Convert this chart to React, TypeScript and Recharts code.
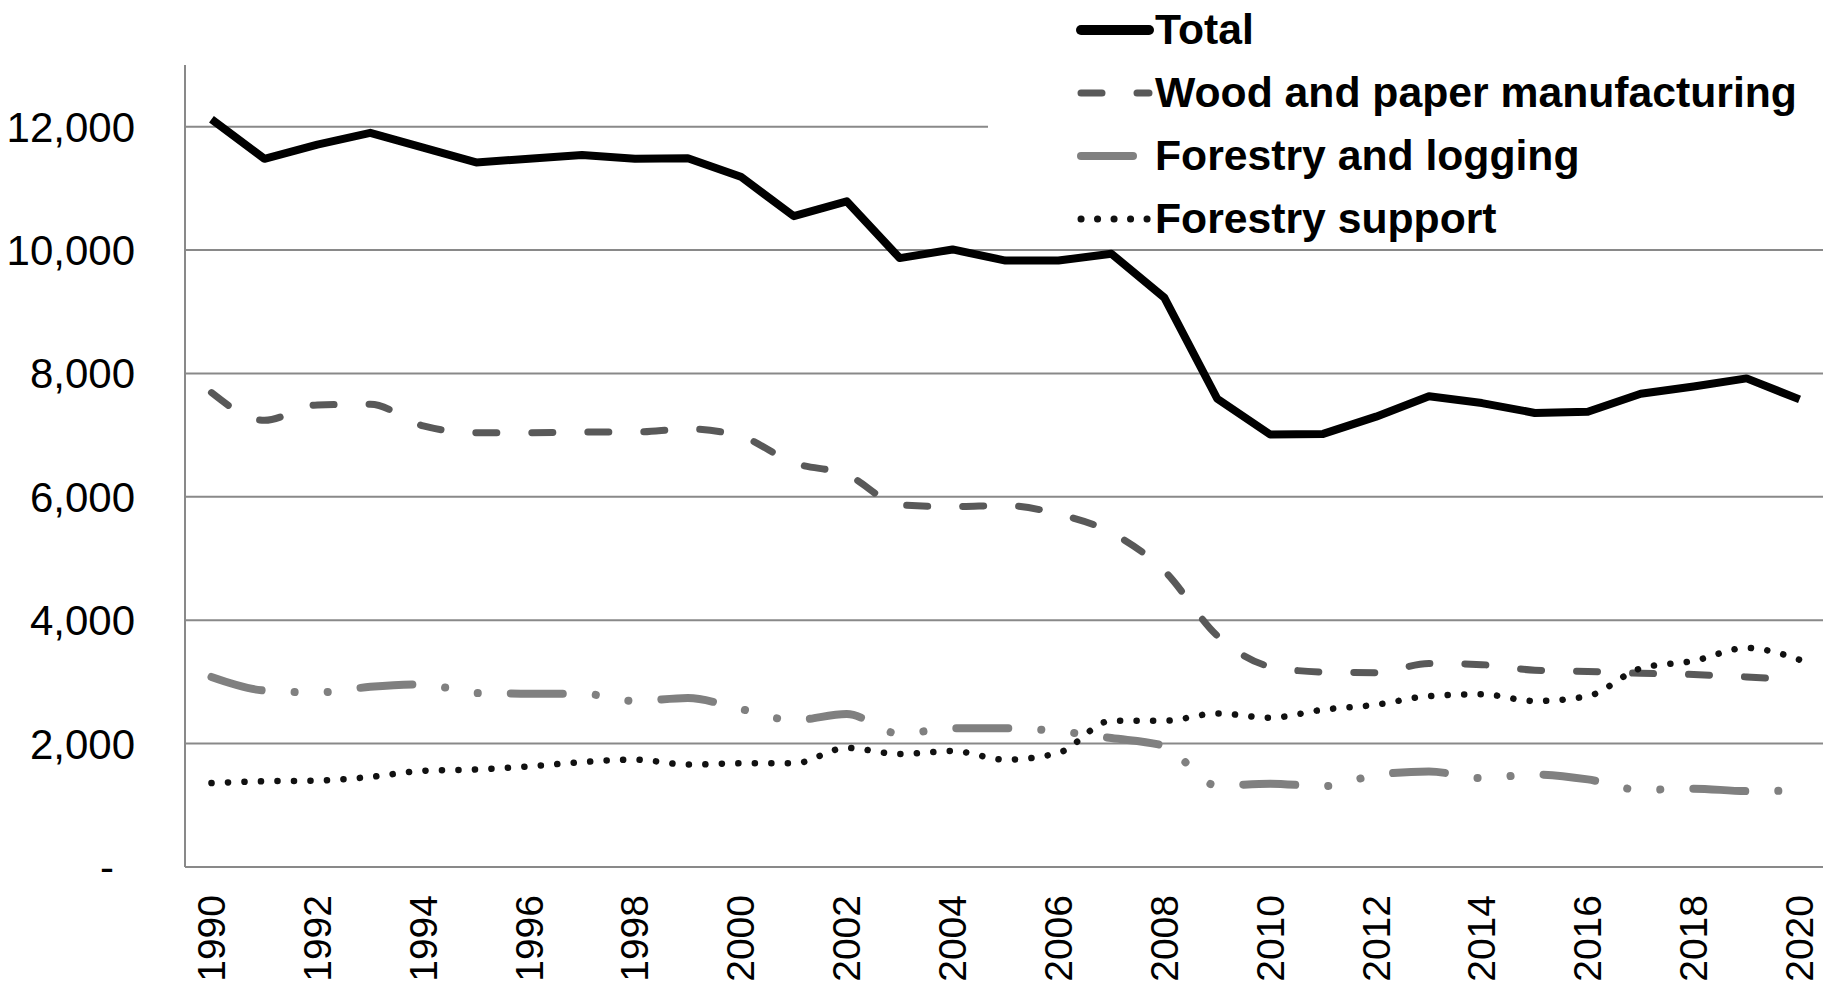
import React from "react"
import { LineChart, Line, XAxis, YAxis, CartesianGrid, Legend } from "recharts"

// years on the category axis
const YEARS = [
  1990, 1991, 1992, 1993, 1994, 1995, 1996, 1997, 1998, 1999, 2000,
  2001, 2002, 2003, 2004, 2005, 2006, 2007, 2008, 2009, 2010,
  2011, 2012, 2013, 2014, 2015, 2016, 2017, 2018, 2019, 2020,
]
const LABEL_YEARS = [1990, 1992, 1994, 1996, 1998, 2000, 2002, 2004, 2006, 2008, 2010, 2012, 2014, 2016, 2018, 2020]
const Y_TICKS = [0, 2000, 4000, 6000, 8000, 10000, 12000]

const TOTAL = [12120, 11480, 11710, 11900, 11660, 11420, 11480, 11540, 11480, 11490, 11190, 10550, 10790, 9870, 10010, 9830, 9830, 9940, 9230, 7590, 7010, 7020, 7300, 7630, 7520, 7360, 7380, 7670, 7790, 7920, 7580]
const WOOD = [7690, 7240, 7490, 7500, 7150, 7040, 7040, 7050, 7050, 7100, 6980, 6550, 6360, 5870, 5840, 5860, 5720, 5420, 4800, 3750, 3250, 3160, 3150, 3300, 3280, 3190, 3170, 3140, 3120, 3080, 3030]
const LOGGING = [3080, 2860, 2830, 2920, 2960, 2820, 2810, 2810, 2690, 2740, 2560, 2380, 2480, 2160, 2250, 2250, 2200, 2090, 1960, 1320, 1350, 1310, 1490, 1550, 1440, 1500, 1420, 1250, 1270, 1230, 1240]
const SUPPORT = [1360, 1390, 1400, 1460, 1560, 1580, 1630, 1700, 1740, 1660, 1680, 1680, 1930, 1830, 1880, 1740, 1850, 2370, 2370, 2490, 2420, 2550, 2630, 2770, 2800, 2690, 2770, 3220, 3340, 3550, 3360]

const data = YEARS.map((year, i) => ({
  year,
  total: TOTAL[i],
  wood: WOOD[i],
  logging: LOGGING[i],
  support: SUPPORT[i],
}))

// tick marks sit between the years, Excel style
const BOUNDS = [YEARS[0] - 0.5, ...YEARS.map((y) => y + 0.5)]
const X_DOMAIN = [YEARS[0] - 0.5, YEARS[YEARS.length - 1] + 0.5]

const FONT = "'Liberation Sans', Arial, sans-serif"
const GRID = "#898989"

const SERIES = [
  { key: "total", name: "Total", color: "#000000", width: 8, legendWidth: 10, dash: undefined, type: "linear" },
  { key: "wood", name: "Wood and paper manufacturing", color: "#595959", width: 7, legendWidth: 7, dash: "21 35", type: "monotone" },
  { key: "logging", name: "Forestry and logging", color: "#808080", width: 8, legendWidth: 8, dash: "52 33 0.1 33 0.1 33", type: "monotone" },
  { key: "support", name: "Forestry support", color: "#111111", width: 6.5, legendWidth: 7, dash: "0.1 16.4", type: "monotone" },
]

function YTick({ x, y, payload }: any) {
  const v = payload.value
  return (
    <text
      x={v === 0 ? x - 21 : x}
      y={y}
      dy="0.355em"
      textAnchor="end"
      fontSize={42}
      fontFamily={FONT}
      fill="#000"
    >
      {v === 0 ? "-" : v.toLocaleString("en-US")}
    </text>
  )
}

function YearTick({ x, y, payload }: any) {
  return (
    <text
      x={x}
      y={y}
      transform={`rotate(-90, ${x}, ${y})`}
      textAnchor="end"
      dominantBaseline="central"
      fontSize={39}
      fontFamily={FONT}
      fill="#000"
    >
      {payload.value}
    </text>
  )
}

function LegendBox({ payload }: any) {
  const items = SERIES.map((s) => ({ s, entry: (payload || []).find((p: any) => p.value === s.name) })).filter((d) => d.entry)
  return (
    <div style={{ background: "#fff", width: "100%", height: "100%", paddingLeft: 88, boxSizing: "border-box" }}>
      {items.map(({ s, entry }) => (
        <div key={s.key} style={{ height: 63, display: "flex", alignItems: "center" }}>
          <svg width={78} height={20} style={{ display: "block" }}>
            <line
              x1={5}
              x2={73}
              y1={10}
              y2={10}
              stroke={s.color}
              strokeWidth={s.legendWidth}
              strokeDasharray={s.dash}
              strokeLinecap="round"
            />
          </svg>
          <span style={{ fontFamily: FONT, fontWeight: 700, fontSize: 42.7, color: "#000", marginLeft: 1, lineHeight: "63px", whiteSpace: "nowrap" }}>
            {entry.value}
          </span>
        </div>
      ))}
    </div>
  )
}

export default function App() {
  return (
    <div style={{ position: "absolute", left: 0, top: 0, width: 1823, height: 990, overflow: "hidden", background: "#fff" }}>
      <LineChart width={1826} height={990} data={data} margin={{ top: 65, right: 0, bottom: 0, left: 0 }}>
        <CartesianGrid
          horizontal
          vertical={false}
          horizontalValues={Y_TICKS}
          stroke={GRID}
          strokeWidth={2}
          yAxisId="left"
          xAxisId="years"
        />
        <XAxis
          xAxisId="marks"
          type="number"
          dataKey="year"
          domain={X_DOMAIN}
          allowDataOverflow
          ticks={BOUNDS}
          interval={0}
          tick={false}
          tickSize={13}
          height={0}
          axisLine={{ stroke: GRID, strokeWidth: 2 }}
          tickLine={{ stroke: GRID, strokeWidth: 2 }}
        />
        <XAxis
          xAxisId="years"
          type="number"
          dataKey="year"
          domain={X_DOMAIN}
          allowDataOverflow
          ticks={LABEL_YEARS}
          interval={0}
          tick={<YearTick />}
          tickLine={false}
          axisLine={false}
          tickSize={0}
          tickMargin={28}
          height={123}
        />
        <YAxis
          yAxisId="left"
          width={185}
          domain={[0, 13000]}
          ticks={Y_TICKS}
          interval={0}
          tick={<YTick />}
          tickLine={false}
          tickSize={0}
          tickMargin={50}
          axisLine={{ stroke: GRID, strokeWidth: 2 }}
        />
        <Legend
          layout="vertical"
          align="center"
          verticalAlign="middle"
          content={<LegendBox />}
          wrapperStyle={{ left: 988, top: -2, width: 835, height: 247 }}
        />
        {SERIES.map((s) => (
          <Line
            key={s.key}
            xAxisId="years"
            yAxisId="left"
            type={s.type as any}
            dataKey={s.key}
            name={s.name}
            stroke={s.color}
            strokeWidth={s.width}
            strokeDasharray={s.dash}
            strokeLinecap={s.dash ? "round" : "butt"}
            strokeLinejoin="round"
            dot={false}
            activeDot={false}
            isAnimationActive={false}
          />
        ))}
      </LineChart>
    </div>
  )
}
